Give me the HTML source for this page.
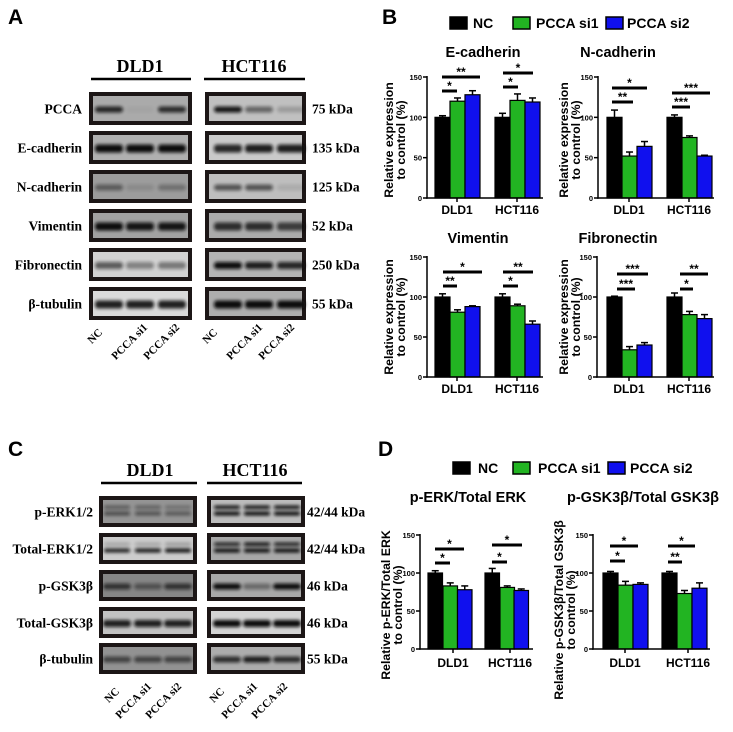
<!DOCTYPE html>
<html><head><meta charset="utf-8"><style>
html,body{margin:0;padding:0;background:#fff;}
svg{display:block;}
.ser{font-family:"Liberation Serif",serif;font-weight:bold;}
.san{font-family:"Liberation Sans",Arial,sans-serif;font-weight:bold;}
</style></head><body>
<svg id="s" width="733" height="732" viewBox="0 0 733 732" xmlns="http://www.w3.org/2000/svg">
<defs>
<filter id="bl" x="-30%" y="-100%" width="160%" height="300%"><feGaussianBlur stdDeviation="1.6"/></filter>
</defs>
</svg>
<script>
var S=document.getElementById('s');var h='';
function T(x,y,t,cls,sz,anchor,extra){h+='<text x="'+x+'" y="'+y+'" class="'+cls+'" font-size="'+sz+'" text-anchor="'+(anchor||'start')+'" '+(extra||'')+'>'+t+'</text>';}
function R(x,y,w,hh,f,extra){h+='<rect x="'+x+'" y="'+y+'" width="'+w+'" height="'+hh+'" fill="'+f+'" '+(extra||'')+'/>';}
function L(x1,y1,x2,y2,w){h+='<line x1="'+x1+'" y1="'+y1+'" x2="'+x2+'" y2="'+y2+'" stroke="#000" stroke-width="'+(w||1.5)+'"/>';}
T(8,24,'A','san',21);T(382,24,'B','san',21);T(8,456,'C','san',21);T(378,456,'D','san',21);
function box(x1,x2,y1,y2,bg,lanes,ints,th,dbl){
 R(x1,y1,x2-x1,y2-y1,'#1c1616');
 R(x1+4,y1+4,x2-x1-8,y2-y1-8,bg);
 var cy=(y1+y2)/2;
 for(var i=0;i<3;i++){var a=ints[i];if(a<=0)continue;
  if(dbl){var a2=dbl[i];
   h+='<rect x="'+(lanes[i]-13)+'" y="'+(cy-6)+'" width="26" height="3.5" rx="2" fill="#111" opacity="'+a2+'" filter="url(#bl)"/>';
   h+='<rect x="'+(lanes[i]-13)+'" y="'+(cy)+'" width="26" height="4" rx="2" fill="#111" opacity="'+a+'" filter="url(#bl)"/>';
  }else{
   h+='<rect x="'+(lanes[i]-14)+'" y="'+(cy-th/2+1)+'" width="28" height="'+th+'" rx="3" fill="#111" opacity="'+a+'" filter="url(#bl)"/>';}
 }
}
T(140,72,'DLD1','ser',18,'middle');T(254,72,'HCT116','ser',18,'middle');
L(91,79,191,79,2.5);L(204,79,305,79,2.5);
var rowsA=[['PCCA','75 kDa','#aaaaaa',[0.85,0.04,0.8],'#c0c0c0',[0.95,0.5,0.2],6],
['E-cadherin','135 kDa','#b0b0b0',[1,1,1],'#cacaca',[0.85,0.9,0.9],8],
['N-cadherin','125 kDa','#9c9c9c',[0.45,0.12,0.3],'#bebebe',[0.6,0.6,0.1],6],
['Vimentin','52 kDa','#a2a2a2',[1,0.95,0.95],'#ababab',[0.8,0.8,0.7],8],
['Fibronectin','250 kDa','#d2d2d2',[0.6,0.4,0.45],'#b4b4b4',[1,0.9,0.85],7],
['β-tubulin','55 kDa','#dadada',[0.9,0.9,0.9],'#aeaeae',[1,1,1],8]];
for(var i=0;i<6;i++){var r=rowsA[i];var y1=92+i*39,y2=y1+33;
 box(89,192,y1,y2,r[2],[109,140,172],r[3],r[6]);
 box(205,306,y1,y2,r[4],[228,259,291],r[5],r[6]);
 T(82,(y1+y2)/2+5,r[0],'ser',13.5,'end');T(312,(y1+y2)/2+5,r[1],'ser',13.5,'start');}
function rot(x,y,t){h+='<text class="ser" font-size="11" text-anchor="end" transform="translate('+x+','+y+') rotate(-45)">'+t+'</text>';}
[[103,333,'NC'],[148,328,'PCCA si1'],[180,328,'PCCA si2'],[218,333,'NC'],[263,328,'PCCA si1'],[295,328,'PCCA si2']].forEach(function(a){rot(a[0],a[1],a[2]);});
T(150,476,'DLD1','ser',18,'middle');T(255,476,'HCT116','ser',18,'middle');
L(101,483,197,483,2.5);L(207,483,302,483,2.5);
var rowsC=[['p-ERK1/2','42/44 kDa','#949494',[0.55,0.5,0.45],'#bcbcbc',[1,1,1],4,[0.45,0.4,0.3],[1,1,1]],
['Total-ERK1/2','42/44 kDa','#cccccc',[0.9,0.95,1],'#a8a8a8',[1,1,1],4,[0.2,0.2,0.25],[0.9,1,0.9]],
['p-GSK3β','46 kDa','#868686',[0.7,0.45,0.7],'#a8a8a8',[1,0.4,1],6],
['Total-GSK3β','46 kDa','#c2c2c2',[0.9,0.9,0.9],'#d4d4d4',[1,1,1],7],
['β-tubulin','55 kDa','#929292',[0.6,0.6,0.6],'#acacac',[0.8,0.9,0.8],6]];
var cy1=[496,533,570,607,643];
for(var i=0;i<5;i++){var r=rowsC[i];var y1=cy1[i],y2=y1+31;
 box(99,197,y1,y2,r[2],[117,148,178],r[3],r[6],r[7]);
 box(207,305,y1,y2,r[4],[227,257,287],r[5],r[6],r[8]);
 T(93,(y1+y2)/2+5,r[0],'ser',13.5,'end');T(307,(y1+y2)/2+5,r[1],'ser',13.5,'start');}
[[120,692,'NC'],[152,687,'PCCA si1'],[182,687,'PCCA si2'],[225,692,'NC'],[258,687,'PCCA si1'],[288,687,'PCCA si2']].forEach(function(a){rot(a[0],a[1],a[2]);});
function legend(y,xs){var cols=['#000','#22b422','#1010ee'],tx=['NC','PCCA si1','PCCA si2'];
 for(var i=0;i<3;i++){R(xs[i][0],y-6,17,12,cols[i],'stroke="#000" stroke-width="1.5"');T(xs[i][1],y+5,tx[i],'san',14);}}
legend(23,[[450,473],[513,536],[606,627]]);
legend(468,[[453,478],[513,538],[608,630]]);
var C=['#000','#22b422','#1010ee'];
function chart(o){var k=(o.y0-o.y150)/150;
 for(var i=0;i<6;i++){var v=o.v[i],e=o.e[i],x=o.bx[i],w=o.w;var top=o.y0-v*k;
  var xm=x+w/2;L(xm,top,xm,o.y0-(v+e)*k,1.5);L(xm-3.5,o.y0-(v+e)*k,xm+3.5,o.y0-(v+e)*k,1.5);
  R(x,top,w,o.y0-top,C[i%3],'stroke="#000" stroke-width="1.2"');}
 L(o.ax,o.y150-1,o.ax,o.y0+0.75,1.5);L(o.ax-0.75,o.y0,o.xe,o.y0,1.5);
 [0,50,100,150].forEach(function(t){var y=o.y0-t*k;L(o.ax-4,y,o.ax,y,1.5);T(o.ax-5,y+3,t,'san',7.5,'end');});
 o.gl.forEach(function(g){L(g[0],o.y0,g[0],o.y0+4,1.5);T(g[0],o.ly,g[1],'san',12,'middle');});
 o.sig.forEach(function(s){L(s[0],s[2],s[1],s[2],3);T((s[0]+s[1])/2,s[2]-1,s[3],'san',12,'middle');});
 T(o.tx,o.ty,o.t,'san',14.5,'middle');
 o.yt.forEach(function(s){h+='<text class="san" font-size="12.3" text-anchor="middle" transform="translate('+s[0]+','+o.yc+') rotate(-90)">'+s[1]+'</text>';});
}
var bxL=[435,450,465,495,510,525],bxR=[607,622,637,667,682,697];
chart({ax:427,y0:198,y150:77,xe:543,bx:bxL,w:15,v:[100,120,128,100,121,119],e:[2,4,5,5,8,5],gl:[[457,'DLD1'],[517,'HCT116']],ly:214,
 sig:[[442,457,91,'*'],[442,480,77,'**'],[503,518,87,'*'],[503,533,73,'*']],t:'E-cadherin',tx:483,ty:57,yc:140,yt:[[393,'Relative expression'],[405,'to control (%)']]});
chart({ax:598,y0:198,y150:77,xe:714,bx:bxR,w:15,v:[100,52,64,100,75,52],e:[9,5,6,3,2,1],gl:[[629,'DLD1'],[689,'HCT116']],ly:214,
 sig:[[612,633,102,'**'],[612,647,88,'*'],[672,690,107,'***'],[672,710,93,'***']],t:'N-cadherin',tx:618,ty:57,yc:140,yt:[[568,'Relative expression'],[580,'to control (%)']]});
chart({ax:427,y0:377,y150:257,xe:543,bx:bxL,w:15,v:[100,81,88,100,89,66],e:[4,3,1,4,2,4],gl:[[457,'DLD1'],[517,'HCT116']],ly:393,
 sig:[[443,457,286,'**'],[443,482,272,'*'],[503,518,286,'*'],[503,533,272,'**']],t:'Vimentin',tx:478,ty:243,yc:317,yt:[[393,'Relative expression'],[405,'to control (%)']]});
chart({ax:597,y0:377,y150:257,xe:714,bx:bxR,w:15,v:[100,34,40,100,78,73],e:[1,4,3,5,4,5],gl:[[629,'DLD1'],[689,'HCT116']],ly:393,
 sig:[[617,635,289,'***'],[617,648,274,'***'],[680,693,289,'*'],[680,708,274,'**']],t:'Fibronectin',tx:618,ty:243,yc:317,yt:[[568,'Relative expression'],[580,'to control (%)']]});
chart({ax:420,y0:649,y150:535,xe:533,bx:[428,443,457.5,485,500,514],w:14.5,v:[100,83,78,100,81,77],e:[3,4,5,6,2,2],gl:[[453,'DLD1'],[510,'HCT116']],ly:667,
 sig:[[435,450,563,'*'],[435,464,549,'*'],[492,507,562,'*'],[492,522,545,'*']],t:'p-ERK/Total ERK',tx:468,ty:502,yc:605,yt:[[390,'Relative p-ERK/Total ERK'],[402,'to control (%)']]});
chart({ax:593,y0:649,y150:535,xe:710,bx:[603,618,633,662,677,692],w:15,v:[100,84,85,100,73,80],e:[2,5,2,2,4,7],gl:[[625,'DLD1'],[688,'HCT116']],ly:667,
 sig:[[610,625,561,'*'],[610,638,546,'*'],[668,682,562,'**'],[668,695,546,'*']],t:'p-GSK3β/Total GSK3β',tx:643,ty:502,yc:610,yt:[[563,'Relative p-GSK3β/Total GSK3β'],[575,'to control (%)']]});
S.insertAdjacentHTML('beforeend',h);
</script>
</body></html>
